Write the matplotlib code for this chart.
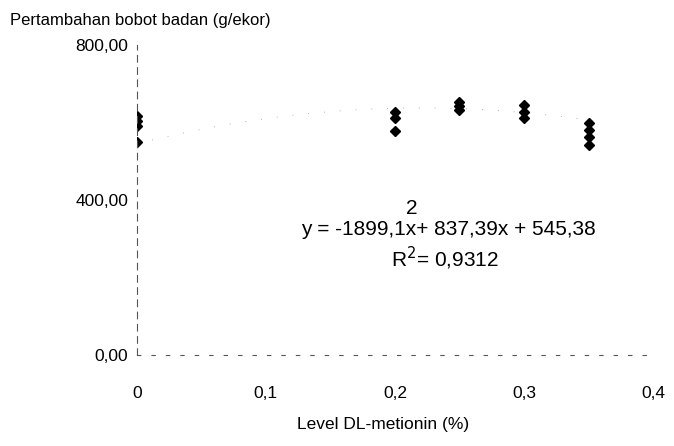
import numpy as np
import matplotlib.pyplot as plt

plt.rcParams['font.family'] = ['Liberation Sans', 'DejaVu Sans']

# level DL-metionin (%) and weight gain (g/ekor)
level = [0, 0, 0, 0, 0.2, 0.2, 0.2, 0.25, 0.25, 0.25, 0.3, 0.3, 0.3, 0.35, 0.35, 0.35, 0.35]
gain = [617, 603, 590, 550, 628, 612, 577, 652, 642, 632, 645, 627, 612, 598, 582, 562, 542]

# quadratic trend reported on the chart
coef = [-1899.1, 837.39, 545.38]

x_ticks = [0, 0.1, 0.2, 0.3, 0.4]
x_labels = ['0', '0,1', '0,2', '0,3', '0,4']
y_ticks = [0, 400, 800]
y_labels = ['0,00', '400,00', '800,00']

W, H = 674, 446
fig = plt.figure(figsize=(W / 100, H / 100), dpi=100)
ax = fig.add_axes([0.203, 0.204, 0.766, 0.695])

# faded trend line (only a few dots survive in the scan)
xs = np.linspace(0, 0.36, 200)
ax.plot(xs, np.polyval(coef, xs), color='#999999', lw=0.6, linestyle=(0, (1, 18)))

ax.plot(level, gain, linestyle='none', marker='D', ms=5, color='black')

ax.set_xlim(0, 0.4)
ax.set_ylim(0, 800)
ax.set_xticks(x_ticks)
ax.set_xticklabels(x_labels, fontsize=12.5)
ax.set_yticks(y_ticks)
ax.set_yticklabels(y_labels, fontsize=12.5)
ax.tick_params(axis='x', length=0, pad=22)
ax.tick_params(axis='y', length=0, pad=6)

for side in ['top', 'right']:
    ax.spines[side].set_visible(False)
ax.spines['left'].set_linestyle((0, (6, 5)))
ax.spines['left'].set_color('#555555')
ax.spines['left'].set_linewidth(0.8)
ax.spines['bottom'].set_linestyle((0, (3, 10)))
ax.spines['bottom'].set_color('#555555')
ax.spines['bottom'].set_linewidth(0.8)

ax.set_xlabel('Level DL-metionin (%)', fontsize=12.5)
ax.xaxis.set_label_coords(0.477, -0.2)
fig.text(10 / W, 1 - 20 / H, 'Pertambahan bobot badan (g/ekor)', fontsize=12, va='center')

# equation of the trend line
fig.text(448 / W, 1 - 229 / H, 'y = -1899,1x+ 837,39x + 545,38', fontsize=15, ha='center', va='center')
fig.text(412 / W, 1 - 208 / H, '2', fontsize=15, ha='center', va='center')
fig.text(445 / W, 1 - 258 / H, 'R$^2$= 0,9312', fontsize=15, ha='center', va='center')

fig.savefig('out.png', dpi=100)
